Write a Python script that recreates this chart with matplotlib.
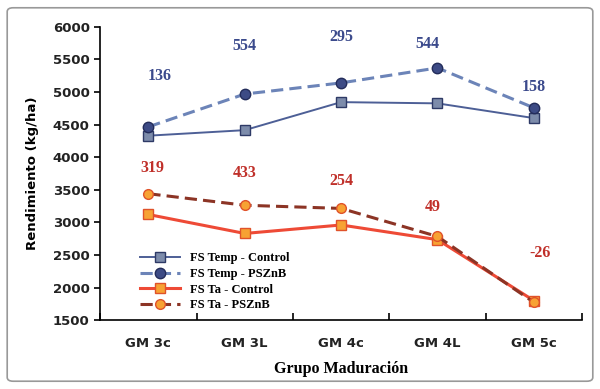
import matplotlib.pyplot as plt
from matplotlib.patches import FancyBboxPatch

grupos = ['GM 3c', 'GM 3L', 'GM 4c', 'GM 4L', 'GM 5c']
temp_control = [4330, 4415, 4845, 4826, 4600]
temp_pszb = [4466, 4969, 5140, 5370, 4758]
ta_control = [3121, 2830, 2960, 2735, 1800]
ta_pszb = [3440, 3263, 3214, 2784, 1774]

# diferencias PSZnB - Control
dif_temp = ['136', '554', '295', '544', '158']
dif_ta = ['319', '433', '254', '49', '-26']
y_dif_temp = [5250, 5700, 5840, 5730, 5080]
y_dif_ta = [3840, 3760, 3640, 3230, 2530]
x_dif_temp = [0.12, 1, 2, 2.9, 4]
x_dif_ta = [0.04, 1, 2, 2.95, 4.06]

fig = plt.figure(figsize=(6, 3.89), dpi=100)
ax = fig.add_axes([0.167, 0.177, 0.803, 0.754])

x = range(len(grupos))
ax.plot(x, temp_control, '-', color='#4d5f96', lw=1.4, marker='s', ms=6.5,
        mfc='#7d8cab', mec='#2e3a66', label='FS Temp - Control')
ax.plot(x, temp_pszb, '--', color='#6c84b8', lw=2.2, dashes=(4, 2), marker='o', ms=7.5,
        mfc='#3d4b85', mec='#232c5a', label='FS Temp - PSZnB')
ax.plot(x, ta_control, '-', color='#ee4a36', lw=2.2, marker='s', ms=6.5,
        mfc='#f7a233', mec='#e0522a', label='FS Ta - Control')
ax.plot(x, ta_pszb, '--', color='#8c3425', lw=2.2, dashes=(4, 2), marker='o', ms=7,
        mfc='#f7a233', mec='#e0522a', label='FS Ta - PSZnB')

for i in x:
    ax.text(x_dif_temp[i], y_dif_temp[i], dif_temp[i], color='#3b4a8c', fontsize=11.5,
            fontweight='bold', family='Liberation Serif', ha='center', va='center')
    ax.text(x_dif_ta[i], y_dif_ta[i], dif_ta[i], color='#c0302a', fontsize=11.5,
            fontweight='bold', family='Liberation Serif', ha='center', va='center')

ax.set_xlim(-0.5, 4.5)
ax.set_ylim(1500, 6000)
ax.set_yticks(range(1500, 6001, 500))
ax.set_xticks(list(x))
ax.set_xticklabels(grupos)
ax.set_xticks([i - 0.5 for i in range(6)], minor=True)
ax.tick_params(axis='x', which='major', length=0, pad=12)
ax.tick_params(axis='x', which='minor', length=5, direction='in', width=1.2)
ax.tick_params(axis='y', length=4, direction='out', width=1.2)
for lab in ax.get_xticklabels() + ax.get_yticklabels():
    lab.set_fontweight('bold')
    lab.set_fontsize(9.5)
    lab.set_color('#222222')

ax.spines['top'].set_visible(False)
ax.spines['right'].set_visible(False)
ax.spines['left'].set_linewidth(1.2)
ax.spines['bottom'].set_linewidth(1.2)

ax.set_ylabel('Rendimiento (kg/ha)', fontsize=9.5, fontweight='bold', labelpad=10)
ax.set_xlabel('Grupo Maduración', fontsize=11.5, fontweight='bold',
              family='Liberation Serif', labelpad=8)

ax.legend(loc='lower left', bbox_to_anchor=(0.065, 0.0), frameon=False,
          prop={'family': 'Liberation Serif', 'weight': 'bold', 'size': 9},
          handlelength=3.2, labelspacing=0.3, borderaxespad=0.3)

fig.patches.append(FancyBboxPatch((0.012, 0.02), 0.976, 0.96, boxstyle='round,pad=0,rounding_size=0.01',
                                  transform=fig.transFigure, fill=False, ec='#999999', lw=1.2))

fig.savefig('out.png', dpi=100)
